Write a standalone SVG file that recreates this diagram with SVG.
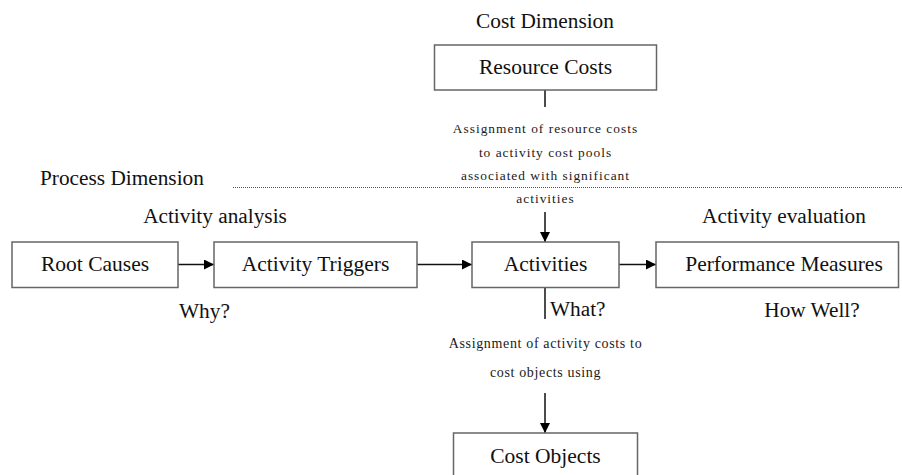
<svg xmlns="http://www.w3.org/2000/svg" width="902" height="475" viewBox="0 0 902 475">
  <defs>
    <marker id="arrow" viewBox="0 0 10 10" refX="10" refY="5" markerWidth="10" markerHeight="10" markerUnits="userSpaceOnUse" orient="auto">
      <path d="M0,0 L10,5 L0,10 z" fill="#000"/>
    </marker>
    <style>
      .box { fill: #fff; stroke: #666; stroke-width: 1.5; }
      .label { font-family: "Liberation Serif", "Times New Roman", serif; font-size: 21.5px; fill: #111; text-anchor: middle; }
      .head { font-family: "Liberation Serif", "Times New Roman", serif; font-size: 21.3px; fill: #111; }
      .note { font-family: "Liberation Serif", "Times New Roman", serif; font-size: 13.4px; fill: #1a1a1a; text-anchor: middle; letter-spacing: 1px; }
      .note2 { font-family: "Liberation Serif", "Times New Roman", serif; font-size: 14px; fill: #1a1a1a; text-anchor: middle; letter-spacing: 0.65px; }
      .edge { stroke: #111; stroke-width: 1.5; fill: none; }
      .divider { stroke: #555; stroke-width: 1.2; stroke-dasharray: 1 1; }
    </style>
  </defs>
  <rect width="902" height="475" fill="#fff"/>

  <!-- dimension headings -->
  <text class="head" x="545" y="28" text-anchor="middle">Cost Dimension</text>
  <text class="head" x="40" y="185">Process Dimension</text>
  <line class="divider" x1="233" y1="187.5" x2="902" y2="187.5"/>
  <text class="head" x="215" y="223" text-anchor="middle">Activity analysis</text>
  <text class="head" x="784" y="223" text-anchor="middle">Activity evaluation</text>

  <!-- connectors -->
  <g id="connectors">
    <line class="edge" x1="545" y1="90" x2="545" y2="107"/>
    <line class="edge" x1="545" y1="212" x2="545" y2="242" marker-end="url(#arrow)"/>
    <line class="edge" x1="178" y1="264.5" x2="214" y2="264.5" marker-end="url(#arrow)"/>
    <line class="edge" x1="417" y1="264.5" x2="472" y2="264.5" marker-end="url(#arrow)"/>
    <line class="edge" x1="619" y1="264.5" x2="656" y2="264.5" marker-end="url(#arrow)"/>
    <line class="edge" x1="545" y1="287" x2="545" y2="319"/>
    <line class="edge" x1="545" y1="393" x2="545" y2="433" marker-end="url(#arrow)"/>
  </g>

  <!-- connector notes -->
  <text class="note" x="545.5" y="133">Assignment of resource costs</text>
  <text class="note" x="545.5" y="156.5">to activity cost pools</text>
  <text class="note" x="545.5" y="180">associated with significant</text>
  <text class="note" x="545.5" y="203">activities</text>
  <text class="note2" x="545.5" y="348">Assignment of activity costs to</text>
  <text class="note2" x="545.5" y="377">cost objects using</text>

  <text class="head" x="179" y="318">Why?</text>
  <text class="head" x="550" y="316">What?</text>
  <text class="head" x="812" y="317" text-anchor="middle">How Well?</text>

  <!-- nodes -->
  <g id="resource-costs">
    <rect class="box" x="434.5" y="45" width="222" height="45"/>
    <text class="label" x="545.5" y="74">Resource Costs</text>
  </g>
  <g id="root-causes">
    <rect class="box" x="12" y="242" width="166" height="45.5"/>
    <text class="label" x="95" y="271">Root Causes</text>
  </g>
  <g id="activity-triggers">
    <rect class="box" x="214" y="242" width="203" height="45.5"/>
    <text class="label" x="315.5" y="271">Activity Triggers</text>
  </g>
  <g id="activities">
    <rect class="box" x="472" y="242" width="147" height="45.5"/>
    <text class="label" x="545.5" y="271">Activities</text>
  </g>
  <g id="performance-measures">
    <rect class="box" x="656" y="242" width="242.5" height="45.5"/>
    <text class="label" x="784" y="271">Performance Measures</text>
  </g>
  <g id="cost-objects">
    <rect class="box" x="453.5" y="433" width="184" height="50"/>
    <text class="label" x="545.5" y="463">Cost Objects</text>
  </g>
</svg>
